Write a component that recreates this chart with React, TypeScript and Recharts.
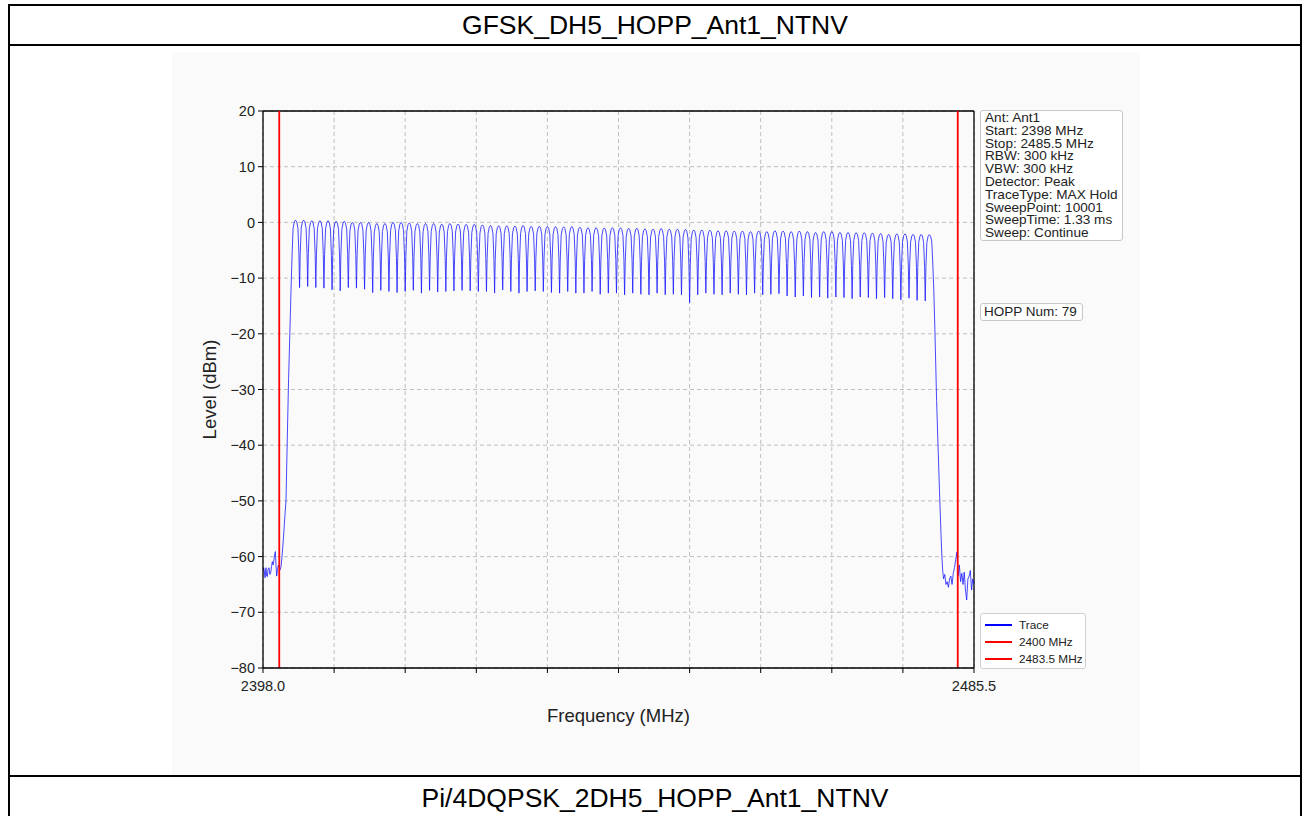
import React from 'react';
import { LineChart, Line, XAxis, YAxis, CartesianGrid, ReferenceLine, Label } from 'recharts';

// ---- axis definitions ----
const FREQ_MIN = 2398.0;
const FREQ_MAX = 2485.5;
const X_TICKS = [2398, 2406.75, 2415.5, 2424.25, 2433, 2441.75, 2450.5, 2459.25, 2468, 2476.75, 2485.5];
const Y_TICKS = [20, 10, 0, -10, -20, -30, -40, -50, -60, -70, -80];
const LIMIT_LINES = [2400, 2483.5];

// ---- hopping channels (2402..2480 MHz, 1 MHz grid) ----
const CH_START = 2402;
const CH_STEP = 1;
const PEAKS = [
  0.4, 0.4, 0.3, 0.3, 0.3, 0.2, 0.2, 0.0, 0.0, 0.0, -0.2, -0.2, 0.0, 0.0, -0.1, -0.2, -0.2, -0.2, -0.3,
  -0.2, -0.3, -0.35, -0.35, -0.45, -0.55, -0.6, -0.6, -0.65, -0.55, -0.7, -0.7, -0.75, -0.75, -0.8, -0.75, -0.85, -0.95, -0.95, -1.0,
  -0.95, -0.95, -1.05, -1.05, -1.15, -1.2, -1.1, -1.2, -1.2, -1.25, -1.35, -1.35, -1.4, -1.5, -1.5, -1.55, -1.55, -1.65, -1.55, -1.65,
  -1.5, -1.55, -1.65, -1.55, -1.65, -1.8, -1.65, -1.65, -1.8, -1.8, -1.85, -1.85, -1.9, -2.0, -2.15, -2.05, -2.05, -2.15, -2.15, -2.2,
];
// minima between adjacent channels (at channel + 0.5 MHz)
const TROUGHS = [
  -11.7, -11.5, -11.7, -11.8, -12.1, -12.3, -11.7, -11.8, -12.0, -12.6, -12.2, -12.4, -12.6, -12.4, -12.2, -12.7, -12.2, -12.5, -12.4,
  -12.3, -12.2, -12.3, -12.4, -12.4, -12.7, -12.1, -12.4, -12.7, -12.4, -12.3, -12.4, -12.6, -12.7, -12.4, -12.7, -12.7, -12.4, -12.9, -12.7,
  -12.7, -13.0, -12.7, -12.9, -13.0, -12.7, -13.0, -12.9, -13.0, -14.4, -13.0, -12.7, -12.9, -13.0, -12.7, -12.9, -13.0, -12.7, -13.0, -12.9,
  -12.8, -13.2, -13.4, -13.2, -13.5, -13.4, -13.6, -13.4, -13.5, -13.7, -13.4, -13.5, -13.7, -13.5, -13.7, -13.9, -13.6, -14.0, -14.1,
];
// shape of each hop channel: offset from centre (MHz) and fraction of the way down to the neighbouring minimum
const SHAPE_OFFSETS = [-0.42, -0.3, -0.15, 0, 0.15, 0.3, 0.42];
const SHAPE_FRACTION = [0.5, 0.12, 0.025, 0, 0.025, 0.12, 0.5];

// ---- band edges (noise floor and skirts) ----
const LEFT_EDGE_F = [2398.0, 2398.08, 2398.16, 2398.25, 2398.37, 2398.45, 2398.53, 2398.62, 2398.74, 2398.84, 2398.94, 2399.05, 2399.15, 2399.25, 2399.35, 2399.45, 2399.52, 2399.6, 2399.68, 2399.78, 2399.89, 2400.0, 2400.09, 2400.22, 2400.34, 2400.5, 2400.71, 2400.83, 2401.0, 2401.15, 2401.3, 2401.45];
const LEFT_EDGE_L = [-62.8, -62.0, -62.6, -63.8, -62.0, -63.5, -63.6, -62.3, -62.0, -63.2, -63.0, -61.8, -60.9, -61.5, -60.6, -59.5, -59.1, -61.5, -63.5, -62.5, -61.5, -62.0, -62.4, -61.8, -60.0, -57.0, -52.4, -50.0, -38.0, -28.0, -20.0, -12.0];
const RIGHT_EDGE_F = [2480.55, 2480.7, 2480.9, 2481.07, 2481.25, 2481.44, 2481.55, 2481.65, 2481.75, 2481.9, 2482.05, 2482.2, 2482.35, 2482.5, 2482.65, 2482.8, 2482.95, 2483.1, 2483.25, 2483.4, 2483.55, 2483.7, 2483.85, 2484.0, 2484.15, 2484.3, 2484.45, 2484.6, 2484.75, 2484.9, 2485.05, 2485.2, 2485.35, 2485.5];
const RIGHT_EDGE_L = [-12.0, -20.0, -32.0, -40.0, -48.0, -56.0, -60.0, -62.5, -64.0, -63.2, -65.0, -64.5, -65.5, -64.0, -63.5, -65.0, -63.0, -62.0, -60.5, -59.2, -63.5, -61.5, -64.5, -63.0, -65.0, -62.8, -66.0, -67.8, -64.0, -63.5, -62.5, -66.0, -64.0, -65.0];

const INFO_LINES = [
  'Ant: Ant1',
  'Start: 2398 MHz',
  'Stop: 2485.5 MHz',
  'RBW: 300 kHz',
  'VBW: 300 kHz',
  'Detector: Peak',
  'TraceType: MAX Hold',
  'SweepPoint: 10001',
  'SweepTime: 1.33 ms',
  'Sweep: Continue',
];
const HOPP_TEXT = 'HOPP Num: 79';
const LEGEND_ITEMS = [
  { name: 'Trace', color: '#0000ff' },
  { name: '2400 MHz', color: '#ff0000' },
  { name: '2483.5 MHz', color: '#ff0000' },
];
const TITLE = 'GFSK_DH5_HOPP_Ant1_NTNV';
const NEXT_TITLE = 'Pi/4DQPSK_2DH5_HOPP_Ant1_NTNV';

function buildTrace() {
  const pts: { f: number; level: number }[] = [];
  LEFT_EDGE_F.forEach((f, i) => pts.push({ f, level: LEFT_EDGE_L[i] }));
  const n = PEAKS.length;
  for (let i = 0; i < n; i++) {
    const fc = CH_START + i * CH_STEP;
    const p = PEAKS[i];
    const tl = i > 0 ? TROUGHS[i - 1] : LEFT_EDGE_L[LEFT_EDGE_L.length - 1];
    const tr = i < n - 1 ? TROUGHS[i] : RIGHT_EDGE_L[0];
    SHAPE_OFFSETS.forEach((off, k) => {
      const t = off < 0 ? tl : tr;
      pts.push({ f: fc + off, level: p + SHAPE_FRACTION[k] * (t - p) });
    });
    if (i < n - 1) pts.push({ f: fc + CH_STEP / 2, level: TROUGHS[i] });
  }
  RIGHT_EDGE_F.forEach((f, i) => pts.push({ f, level: RIGHT_EDGE_L[i] }));
  return pts;
}

const TRACE = buildTrace();
const FONT = '"Liberation Sans", Arial, Helvetica, sans-serif';

const fmtY = (v: number) => (v < 0 ? '\u2212' + Math.abs(v) : String(v));
const fmtX = (v: number) => (v === FREQ_MIN || v === FREQ_MAX ? v.toFixed(1) : '');

export default function App() {
  const line = (s: React.CSSProperties) => (
    <div style={{ position: 'absolute', background: '#000', ...s }} />
  );
  return (
    <div style={{ position: 'absolute', left: 0, top: 0, width: 1310, height: 816, overflow: 'hidden', background: '#fff', fontFamily: FONT }}>
      {/* table frame */}
      {line({ left: 8, top: 4, width: 1294, height: 2 })}
      {line({ left: 8, top: 44, width: 1294, height: 2 })}
      {line({ left: 8, top: 775, width: 1294, height: 2 })}
      {line({ left: 8, top: 4, width: 2, height: 812 })}
      {line({ left: 1300, top: 4, width: 2, height: 812 })}
      <div style={{ position: 'absolute', left: 8, top: 6, width: 1294, height: 38, display: 'flex', alignItems: 'center', justifyContent: 'center', fontSize: 26.5, color: '#000' }}>{TITLE}</div>
      <div style={{ position: 'absolute', left: 8, top: 777, width: 1294, height: 42, display: 'flex', alignItems: 'center', justifyContent: 'center', fontSize: 26.5, color: '#000' }}>{NEXT_TITLE}</div>
      {/* figure background */}
      <div style={{ position: 'absolute', left: 172, top: 52, width: 968, height: 723, background: '#fafafa' }} />

      <div style={{ position: 'absolute', left: 0, top: 0, width: 1310, height: 816 }}>
        <LineChart width={1310} height={816} data={TRACE} margin={{ top: 111, right: 336, bottom: 118, left: 203 }}>
          <CartesianGrid stroke="#b0b0b0" strokeDasharray="4 3" strokeWidth={0.8} />
          <XAxis
            dataKey="f"
            type="number"
            domain={[FREQ_MIN, FREQ_MAX]}
            ticks={X_TICKS}
            tickFormatter={fmtX}
            allowDataOverflow
            height={30}
            tickSize={5}
            tickMargin={8}
            interval={0}
            axisLine={{ stroke: '#000', strokeWidth: 1.3 }}
            tickLine={{ stroke: '#000', strokeWidth: 1 }}
            tick={{ fill: '#222', fontSize: 14.5, fontFamily: FONT }}
          >
            <Label value="Frequency (MHz)" position="bottom" offset={11} style={{ fill: '#222', fontSize: 18.5, fontFamily: FONT }} />
          </XAxis>
          <YAxis
            type="number"
            domain={[-80, 20]}
            ticks={Y_TICKS}
            tickFormatter={fmtY}
            allowDataOverflow
            width={60}
            tickSize={5}
            tickMargin={3}
            interval={0}
            axisLine={{ stroke: '#000', strokeWidth: 1.3 }}
            tickLine={{ stroke: '#000', strokeWidth: 1 }}
            tick={{ fill: '#222', fontSize: 14.5, fontFamily: FONT }}
          >
            <Label value="Level (dBm)" angle={-90} position="insideLeft" offset={6} style={{ fill: '#222', fontSize: 18.5, fontFamily: FONT, textAnchor: 'middle' }} />
          </YAxis>
          <ReferenceLine y={20} stroke="#000" strokeWidth={1.3} />
          <ReferenceLine x={FREQ_MAX} stroke="#000" strokeWidth={1.3} />
          <Line dataKey="level" stroke="#1a1aff" strokeWidth={0.8} dot={false} isAnimationActive={false} />
          {LIMIT_LINES.map((f) => (
            <ReferenceLine key={f} x={f} stroke="#ff0000" strokeWidth={1.8} />
          ))}
        </LineChart>
      </div>

      {/* info text box */}
      <div style={{ position: 'absolute', left: 980, top: 110, width: 143, height: 131, boxSizing: 'border-box', border: '1px solid #c8c8c8', borderRadius: 3, background: '#fff', padding: '1px 0 0 4px', fontSize: 13.6, lineHeight: '12.8px', color: '#222', whiteSpace: 'nowrap' }}>
        {INFO_LINES.map((t) => (
          <div key={t}>{t}</div>
        ))}
      </div>
      <div style={{ position: 'absolute', left: 980, top: 303, width: 103, height: 18, boxSizing: 'border-box', border: '1px solid #c8c8c8', borderRadius: 3, background: '#fff', padding: '0 0 0 3px', fontSize: 13.5, lineHeight: '16px', color: '#222', whiteSpace: 'nowrap' }}>
        {HOPP_TEXT}
      </div>
      {/* legend */}
      <div style={{ position: 'absolute', left: 980, top: 613, width: 106, height: 56, boxSizing: 'border-box', border: '1px solid #d0d0d0', borderRadius: 3, background: '#fff', padding: '2px 0 0 4px', fontSize: 11.8, color: '#222', whiteSpace: 'nowrap' }}>
        {LEGEND_ITEMS.map((it) => (
          <div key={it.name} style={{ height: 17, display: 'flex', alignItems: 'center' }}>
            <div style={{ width: 27, height: 2, background: it.color, marginRight: 7 }} />
            <span>{it.name}</span>
          </div>
        ))}
      </div>
    </div>
  );
}
